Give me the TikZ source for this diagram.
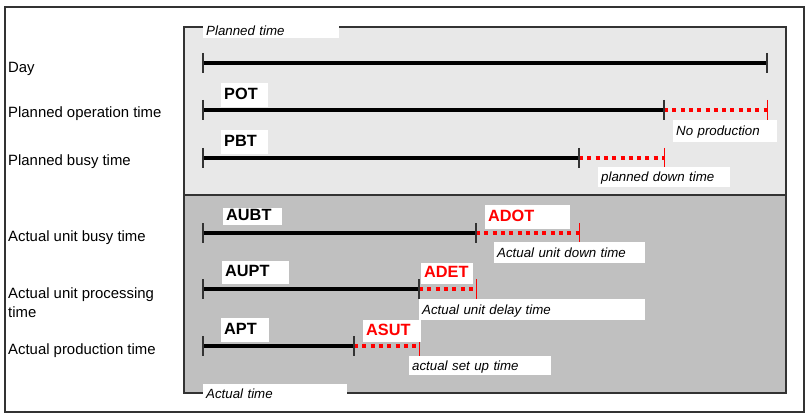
\documentclass[tikz,border=0pt]{standalone}
\usepackage{fontspec}
\setmainfont{Liberation Sans}
\usepackage{tikz}

\definecolor{planbg}{HTML}{E8E8E8}
\definecolor{actbg}{HTML}{C0C0C0}
\definecolor{frame}{HTML}{333333}

\begin{document}
\begin{tikzpicture}[
	x=1pt, y=-1pt,
	rowlabel/.style = {anchor=base west, inner sep=0pt, align=left, font=\fontsize{14.9}{19}\selectfont},
	tag/.style = {anchor=north west, fill=white, inner xsep=3pt, inner ysep=0pt, text height=12pt, text depth=4pt, font=\fontsize{16.3}{18}\selectfont\bfseries},
	redtag/.style = {tag, text=red},
	note/.style = {anchor=north west, fill=white, inner xsep=3pt, inner ysep=0pt, text height=10pt, text depth=1pt, font=\fontsize{13.3}{15}\selectfont\itshape},
	busy/.style = {line width=4pt},
	lost/.style = {red, line width=4pt, dash pattern=on 4pt off 4.3pt},
	tick/.style = {line width=1.4pt, frame}
	]
	
	\useasboundingbox (0,0) rectangle (809,417);
	\draw[frame, line width=1.3pt] (5,7) rectangle (804,412);
	\filldraw[fill=planbg, draw=frame, line width=1.2pt] (184,27) rectangle (786,195);
	\filldraw[fill=actbg, draw=frame, line width=1.2pt] (184,195) rectangle (786,393);
	
	% row labels
	\node[rowlabel] (lday) at (8,73) {Day};
	\node[rowlabel] (lpot) at (8,118) {Planned operation time};
	\node[rowlabel] (lpbt) at (8,166) {Planned busy time};
	\node[rowlabel] (laubt) at (8,241) {Actual unit busy time};
	\node[rowlabel] (laupt) at (8,317) {Actual unit processing\\time};
	\node[rowlabel] (lapt) at (8,354) {Actual production time};
	
	% time points
	\coordinate (day0) at (203,63);  \coordinate (day1) at (767,63);
	\coordinate (pot0) at (203,110); \coordinate (pot1) at (664,110); \coordinate (pot2) at (767,110);
	\coordinate (pbt0) at (203,158); \coordinate (pbt1) at (579,158); \coordinate (pbt2) at (664,158);
	\coordinate (aubt0) at (203,233); \coordinate (aubt1) at (476,233); \coordinate (aubt2) at (579,233);
	\coordinate (aupt0) at (203,289); \coordinate (aupt1) at (419,289); \coordinate (aupt2) at (476,289);
	\coordinate (apt0) at (203,346); \coordinate (apt1) at (354,346); \coordinate (apt2) at (419,346);
	
	\draw[busy] (day0) -- (day1);
	\draw[busy] (pot0) -- (pot1);
	\draw[lost] (pot1) -- (pot2);
	\draw[busy] (pbt0) -- (pbt1);
	\draw[lost] (pbt1) -- (pbt2);
	\draw[busy] (aubt0) -- (aubt1);
	\draw[lost] (aubt1) -- (aubt2);
	\draw[busy] (aupt0) -- (aupt1);
	\draw[lost] (aupt1) -- (aupt2);
	\draw[busy] (apt0) -- (apt1);
	\draw[lost] (apt1) -- (apt2);
	
	\foreach \p in {day0,day1,pot0,pot1,pbt0,pbt1,aubt0,aubt1,aupt0,aupt1,apt0,apt1}
		\draw[tick] (\p) ++(0,-10) -- ++(0,20);
	\foreach \p in {pot2,pbt2,aubt2,aupt2,apt2}
		\draw[tick, red, line width=1pt] (\p) ++(0,-10) -- ++(0,20);
	
	% tags
	\node[tag, text width=41pt, minimum height=24pt] (pot) at (221,83) {POT};
	\node[tag, text width=41pt, minimum height=24pt] (pbt) at (221,130) {PBT};
	\node[tag, text width=53pt, minimum height=17pt] (aubt) at (223,208) {AUBT};
	\node[redtag, text width=79pt, minimum height=24pt] (adot) at (485,205) {ADOT};
	\node[tag, text width=61pt, minimum height=23pt] (aupt) at (222,261) {AUPT};
	\node[redtag, text width=46pt, minimum height=21pt] (adet) at (421,263) {ADET};
	\node[tag, text width=42pt, minimum height=24pt] (apt) at (221,318) {APT};
	\node[redtag, text width=52pt, minimum height=22pt] (asut) at (363,320) {ASUT};
	
	% notes
	\node[note, text width=130pt, minimum height=16pt, text depth=-2pt] (plantime) at (203,22) {Planned time};
	\node[note, text width=98pt, minimum height=22pt] (noprod) at (673,120) {No production};
	\node[note, text width=126pt, minimum height=20pt] (pdown) at (598,167) {planned down time};
	\node[note, text width=145pt, minimum height=21pt] (adown) at (494,242) {Actual unit down time};
	\node[note, text width=220pt, minimum height=21pt] (adelay) at (419,299) {Actual unit delay time};
	\node[note, text width=136pt, minimum height=19pt] (asetup) at (409,356) {actual set up time};
	\node[note, text width=138pt, minimum height=20pt] (acttime) at (203,384) {Actual time};
\end{tikzpicture}
\end{document}
